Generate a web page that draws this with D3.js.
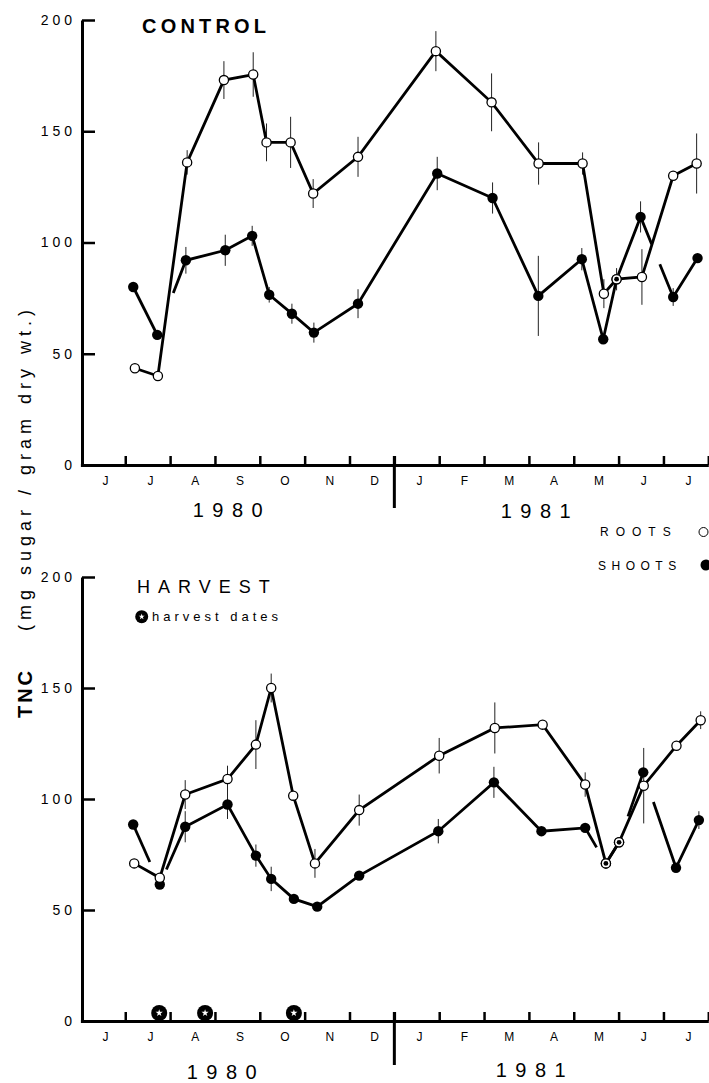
<body>
  <svg id="chart"></svg>
</body>

<script src="https://cdn.jsdelivr.net/npm/d3@7"></script>
<script>
  // month letters along the time axis, June 1980 .. July 1981
  const months = ["J", "J", "A", "S", "O", "N", "D", "J", "F", "M", "A", "M", "J", "J"];
  const yTicks = [0, 50, 100, 150, 200];

  // x values are months since 1 June 1980
  const controlRootsMonth = [1.215, 1.728, 2.38, 3.2, 3.853, 4.15, 4.687, 5.19, 6.19, 7.926, 9.168, 10.216, 11.197, 11.672, 11.955, 12.52, 13.217, 13.74];
  const controlRootsTNC = [43.5, 40, 136, 173, 175.5, 145, 145, 122, 138.5, 186, 163, 135.5, 135.5, 77, 83.5, 84.5, 130, 135.5];
  const controlRootsErr = [0, 0, 5.5, 8.5, 10, 8.5, 11.5, 6.5, 9, 9, 13, 9.5, 5, 6.5, 5, 12.5, 0, 13.5];

  const controlShootsMonth = [1.178, 1.713, 2.352, 3.23, 3.83, 4.21, 4.716, 5.206, 6.19, 7.956, 9.19, 10.21, 11.18, 11.657, 11.955, 12.49, 13.217, 13.76];
  const controlShootsTNC = [80, 58.5, 92, 96.5, 103, 76.5, 68, 59.5, 72.5, 131, 120, 76, 92.5, 56.5, 83.5, 111.5, 75.5, 93];
  const controlShootsErr = [0, 2, 6, 7, 4.5, 3.5, 4.5, 4.5, 6.5, 7.5, 7, 18, 5, 0, 0, 7, 4, 0];

  const harvestRootsMonth = [1.2, 1.77, 2.337, 3.28, 3.913, 4.254, 4.745, 5.23, 6.216, 8.0, 9.24, 10.306, 11.255, 11.717, 12.01, 12.56, 13.29, 13.83];
  const harvestRootsTNC = [71, 64.5, 102, 109, 124.5, 150, 101.5, 71, 95, 119.5, 132, 133.5, 106.5, 71, 80.5, 106, 124, 135.5];
  const harvestRootsErr = [0, 0, 6.5, 6, 11, 6.5, 0, 6.5, 7, 8, 11.5, 0, 5.5, 2.5, 0, 17, 0, 4];

  const harvestShootsMonth = [1.177, 1.77, 2.337, 3.28, 3.913, 4.254, 4.76, 5.28, 6.216, 7.98, 9.22, 10.28, 11.255, 11.717, 12.01, 12.55, 13.28, 13.79];
  const harvestShootsTNC = [88.5, 61.5, 87.5, 97.5, 74.5, 64, 55, 51.5, 65.5, 85.5, 107.5, 85.5, 87, 71, 80.5, 112, 69, 90.5];
  const harvestShootsErr = [0, 0, 7, 6.5, 5, 5.5, 0, 0, 0, 5.5, 7, 0, 0, 0, 0, 0, 0, 4];

  const harvestDates = [1.757, 2.78, 4.76];

  // where the shoots line is broken to let the roots line pass: [segment, from, to]
  const controlShootsGaps = [[1, 0, 0.56], [15, 0.34, 0.59]];
  const harvestShootsGaps = [[0, 0.625, 1], [1, 0, 0.26], [12, 0.55, 1], [14, 0, 0.37], [15, 0, 0.31]];

  const font = "'Liberation Sans', Arial, sans-serif";
  const svg = d3.select("#chart").attr("width", 709).attr("height", 1083);
  const x = d3.scaleLinear().domain([0, 14]).range([80.4, 708.3]);

  function zip(ms, vs, es) {
    return ms.map((m, i) => ({ m: m, v: vs[i], e: es[i] }));
  }

  function brokenLines(pts, gaps) {
    const lines = [];
    let current = [pts[0]];
    for (let i = 0; i < pts.length - 1; i++) {
      const p = pts[i], q = pts[i + 1];
      const gap = gaps.find(g => g[0] === i);
      if (gap) {
        const lerp = t => [p[0] + (q[0] - p[0]) * t, p[1] + (q[1] - p[1]) * t];
        if (gap[1] > 0) current.push(lerp(gap[1]));
        lines.push(current);
        current = gap[2] < 1 ? [lerp(gap[2])] : [];
      }
      current.push(q);
    }
    lines.push(current);
    return lines.filter(l => l.length > 1);
  }

  function starMarker(g, cx, cy, r, starSize) {
    g.append("circle").attr("cx", cx).attr("cy", cy).attr("r", r).attr("fill", "#000");
    g.append("path")
      .attr("d", d3.symbol().type(d3.symbolStar).size(starSize)())
      .attr("transform", `translate(${cx},${cy})`)
      .attr("fill", "#fff");
  }

  function drawPanel(p) {
    const y = d3.scaleLinear().domain([0, 200]).range([p.bottom, p.top]);
    const g = svg.append("g");

    // y axis, ticks pointing inward
    const yAxis = g.append("g")
      .attr("transform", "translate(82,0)")
      .call(d3.axisLeft(y).tickValues(yTicks).tickSize(-13).tickSizeOuter(0).tickPadding(6));
    yAxis.select(".domain").attr("stroke-width", 3);
    yAxis.selectAll(".tick line").attr("stroke-width", 2.5);
    yAxis.selectAll("text")
      .attr("font-family", font).attr("font-size", 14)
      .attr("letter-spacing", 4).attr("fill", "#000");

    // x axis, month boundaries
    const xAxis = g.append("g")
      .attr("transform", `translate(0,${y(0)})`)
      .call(d3.axisBottom(x).tickValues(d3.range(1, 15)).tickSize(-9).tickSizeOuter(0).tickFormat(""));
    xAxis.select(".domain").attr("stroke-width", 3);
    xAxis.selectAll(".tick line").attr("stroke-width", 2.5);

    const monthAxis = g.append("g")
      .attr("transform", `translate(0,${y(0)})`)
      .call(d3.axisBottom(x).tickValues(d3.range(14).map(k => k + 0.55)).tickSize(0).tickPadding(11)
        .tickFormat((d, i) => months[i]));
    monthAxis.select(".domain").remove();
    monthAxis.selectAll("text").attr("font-family", font).attr("font-size", 12).attr("fill", "#000");

    // year divider
    g.append("line")
      .attr("x1", x(7)).attr("x2", x(7))
      .attr("y1", y(0) - 9).attr("y2", y(0) + p.dividerLength)
      .attr("stroke", "#000").attr("stroke-width", 3);

    g.append("text").text("1980")
      .attr("x", p.year1980[0]).attr("y", p.year1980[1])
      .attr("text-anchor", "middle").attr("font-family", font)
      .attr("font-size", 20).attr("letter-spacing", 8.5);
    g.append("text").text("1981")
      .attr("x", p.year1981[0]).attr("y", p.year1981[1])
      .attr("text-anchor", "middle").attr("font-family", font)
      .attr("font-size", 20).attr("letter-spacing", 8.5);

    const roots = zip(p.rootsMonth, p.rootsTNC, p.rootsErr);
    const shoots = zip(p.shootsMonth, p.shootsTNC, p.shootsErr);

    // error bars
    g.append("g").selectAll("line")
      .data(roots.concat(shoots).filter(d => d.e > 0))
      .enter().append("line")
      .attr("x1", d => x(d.m)).attr("x2", d => x(d.m))
      .attr("y1", d => y(d.v - d.e)).attr("y2", d => y(d.v + d.e))
      .attr("stroke", "#222").attr("stroke-width", 1);

    const line = d3.line();
    g.append("path")
      .attr("d", line(roots.map(d => [x(d.m), y(d.v)])))
      .attr("fill", "none").attr("stroke", "#000").attr("stroke-width", 2.8);

    g.append("g").selectAll("path")
      .data(brokenLines(shoots.map(d => [x(d.m), y(d.v)]), p.shootsGaps))
      .enter().append("path")
      .attr("d", line)
      .attr("fill", "none").attr("stroke", "#000").attr("stroke-width", 2.8);

    g.append("g").selectAll("circle")
      .data(shoots).enter().append("circle")
      .attr("cx", d => x(d.m)).attr("cy", d => y(d.v)).attr("r", 5.2)
      .attr("fill", "#000");

    g.append("g").selectAll("circle")
      .data(roots).enter().append("circle")
      .attr("cx", d => x(d.m)).attr("cy", d => y(d.v)).attr("r", 4.6)
      .attr("fill", "#fff").attr("stroke", "#000").attr("stroke-width", 1.3);

    // shoots hidden under a roots circle show as a dot inside it
    g.append("g").selectAll("circle")
      .data(shoots.filter(s => roots.some(r => Math.abs(x(r.m) - x(s.m)) < 2 && Math.abs(y(r.v) - y(s.v)) < 2)))
      .enter().append("circle")
      .attr("cx", d => x(d.m)).attr("cy", d => y(d.v)).attr("r", 2.4)
      .attr("fill", "#000");

    return { g: g, y: y };
  }

  const control = drawPanel({
    top: 20, bottom: 465, dividerLength: 43,
    year1980: [232, 516.5], year1981: [540, 517.5],
    rootsMonth: controlRootsMonth, rootsTNC: controlRootsTNC, rootsErr: controlRootsErr,
    shootsMonth: controlShootsMonth, shootsTNC: controlShootsTNC, shootsErr: controlShootsErr,
    shootsGaps: controlShootsGaps
  });

  const harvest = drawPanel({
    top: 577, bottom: 1021, dividerLength: 44,
    year1980: [226, 1079], year1981: [535, 1076.5],
    rootsMonth: harvestRootsMonth, rootsTNC: harvestRootsTNC, rootsErr: harvestRootsErr,
    shootsMonth: harvestShootsMonth, shootsTNC: harvestShootsTNC, shootsErr: harvestShootsErr,
    shootsGaps: harvestShootsGaps
  });

  harvestDates.forEach(m => starMarker(harvest.g, x(m), harvest.y(0) - 8, 8, 16));

  // titles
  svg.append("text").text("CONTROL")
    .attr("x", 142).attr("y", 33)
    .attr("font-family", font).attr("font-size", 20).attr("font-weight", "bold")
    .attr("letter-spacing", 4.2);
  svg.append("text").text("HARVEST")
    .attr("x", 137).attr("y", 592.5)
    .attr("font-family", font).attr("font-size", 18)
    .attr("letter-spacing", 8);
  starMarker(svg, 141.7, 616.7, 6.5, 11);
  svg.append("text").text("harvest dates")
    .attr("x", 152).attr("y", 621)
    .attr("font-family", font).attr("font-size", 13)
    .attr("letter-spacing", 4);

  // legend
  svg.append("text").text("ROOTS")
    .attr("x", 600).attr("y", 536)
    .attr("font-family", font).attr("font-size", 12).attr("letter-spacing", 7);
  svg.append("circle").attr("cx", 703.5).attr("cy", 532).attr("r", 4.5)
    .attr("fill", "#fff").attr("stroke", "#000").attr("stroke-width", 1);
  svg.append("text").text("SHOOTS")
    .attr("x", 598).attr("y", 569.5)
    .attr("font-family", font).attr("font-size", 12).attr("letter-spacing", 5.5);
  svg.append("circle").attr("cx", 706).attr("cy", 565).attr("r", 5.5).attr("fill", "#000");

  // y axis title
  svg.append("text").text("(mg sugar / gram dry wt.)")
    .attr("transform", "translate(31,468) rotate(-90)")
    .attr("text-anchor", "middle")
    .attr("font-family", font).attr("font-size", 18).attr("letter-spacing", 5);
  svg.append("text").text("TNC")
    .attr("transform", "translate(31.5,693) rotate(-90)")
    .attr("text-anchor", "middle")
    .attr("font-family", font).attr("font-size", 20).attr("font-weight", "bold")
    .attr("letter-spacing", 3);
</script>

<style>
  body {
    margin: 0;
    background: #fff;
  }
  svg {
    display: block;
  }
</style>
